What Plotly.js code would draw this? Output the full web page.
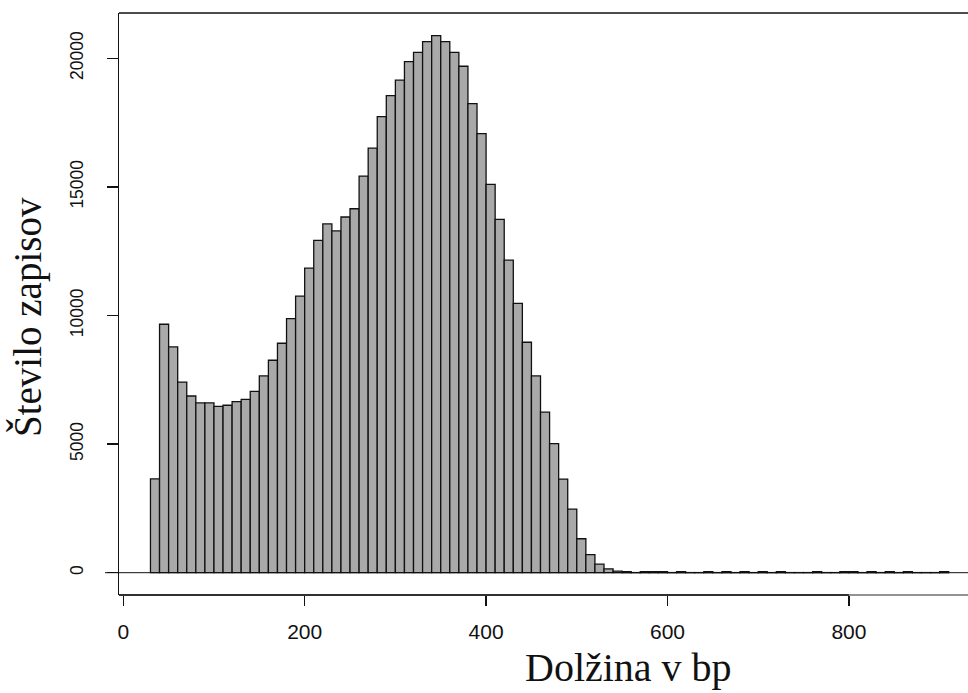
<!DOCTYPE html>
<html>
<head>
<meta charset="utf-8">
<script src="https://cdn.plot.ly/plotly-3.0.1.min.js"></script>
<style>
  html, body { margin: 0; padding: 0; background: #ffffff; }
  #chart { width: 968px; height: 693px; }
</style>
</head>
<body>
<div id="chart"></div>
<script>
// Read-length histogram: counts per 10 bp bin (bin left edges in bp)
const binWidth = 10;
const binStarts = [
  30, 40, 50, 60, 70, 80, 90, 100, 110, 120, 130, 140, 150, 160, 170, 180, 190,
  200, 210, 220, 230, 240, 250, 260, 270, 280, 290, 300, 310, 320, 330, 340, 350,
  360, 370, 380, 390, 400, 410, 420, 430, 440, 450, 460, 470, 480, 490, 500, 510,
  520, 530, 540, 550, 560, 570, 580, 590, 600, 610, 620, 630, 640, 650, 660, 670,
  680, 690, 700, 710, 720, 730, 740, 750, 760, 770, 780, 790, 800, 810, 820, 830,
  840, 850, 860, 870, 880, 890, 900
];
const counts = [
  3650, 9660, 8780, 7410, 6870, 6600, 6600, 6470, 6510, 6650, 6740, 7050, 7650, 8260, 8920, 9880, 10750,
  11840, 12920, 13560, 13290, 13830, 14150, 15420, 16510, 17730, 18550, 19150, 19870, 20230, 20650, 20880, 20650,
  20230, 19690, 18240, 17070, 15100, 13740, 12150, 10470, 8960, 7650, 6240, 5020, 3640, 2470, 1320, 700,
  330, 150, 60, 40, 5, 40, 40, 40, 5, 40, 5, 5, 40, 5, 40, 5,
  40, 5, 40, 5, 40, 5, 5, 5, 40, 5, 5, 40, 40, 5, 40, 5,
  40, 5, 40, 5, 5, 5, 40
];
const xTicks = [0, 200, 400, 600, 800];
const yTicks = [0, 5000, 10000, 15000, 20000];
const xTitle = 'Dolžina v bp';
const yTitle = 'Število zapisov';

const trace = {
  type: 'bar',
  x: binStarts,
  y: counts,
  width: binWidth,
  offset: 0,
  marker: { color: '#a9a9a9', line: { color: '#111111', width: 1.3 } },
  hoverinfo: 'x+y'
};

const sans = 'Liberation Sans, Arial, sans-serif';
const serif = 'Liberation Serif, Times New Roman, serif';

const layout = {
  width: 968,
  height: 693,
  margin: { l: 119, r: 0, t: 13, b: 98, pad: 0 },
  paper_bgcolor: '#ffffff',
  plot_bgcolor: '#ffffff',
  showlegend: false,
  bargap: 0,
  xaxis: {
    range: [-4.7, 931.3],
    tickvals: xTicks,
    ticktext: xTicks.map(String),
    ticks: 'outside',
    ticklen: 10,
    tickwidth: 1.3,
    tickcolor: '#111111',
    showgrid: false,
    zeroline: false,
    showline: false,
    tickfont: { family: sans, size: 21, color: '#111111' },
    ticklabelstandoff: 8
  },
  yaxis: {
    range: [-867, 21761],
    tickvals: yTicks,
    ticktext: yTicks.map(String),
    tickangle: -90,
    ticks: 'outside',
    ticklen: 11,
    tickwidth: 1.3,
    tickcolor: '#111111',
    showgrid: false,
    zeroline: false,
    showline: true,
    linecolor: '#111111',
    linewidth: 1.3,
    tickfont: { family: sans, size: 17.5, color: '#111111' },
    ticklabelstandoff: 17
  },
  shapes: [
    // frame: top edge
    { type: 'line', xref: 'paper', yref: 'paper', x0: 0, x1: 1, y0: 1, y1: 1,
      line: { color: '#111111', width: 1.3 } },
    // frame: bottom edge
    { type: 'line', xref: 'paper', yref: 'paper', x0: 0, x1: 1, y0: 0, y1: 0,
      line: { color: '#6e6e6e', width: 1.3 } },
    // x axis line up to the last tick
    { type: 'line', xref: 'x', yref: 'paper', x0: -4.7, x1: 800, y0: 0, y1: 0,
      line: { color: '#111111', width: 1.3 } },
    // baseline at zero count
    { type: 'line', xref: 'paper', yref: 'y', x0: -0.0165, x1: 1, y0: 0, y1: 0,
      line: { color: '#111111', width: 1 } }
  ],
  annotations: [
    { text: xTitle, xref: 'paper', yref: 'paper', x: 0.6, y: -0.125,
      xanchor: 'center', yanchor: 'middle', showarrow: false,
      font: { family: serif, size: 40, color: '#111111' } },
    { text: yTitle, xref: 'paper', yref: 'paper', x: -0.107, y: 0.478,
      xanchor: 'center', yanchor: 'middle', textangle: -90, showarrow: false,
      font: { family: serif, size: 39, color: '#111111' } }
  ]
};

Plotly.newPlot('chart', [trace], layout, { displayModeBar: false, staticPlot: true });
</script>
</body>
</html>
